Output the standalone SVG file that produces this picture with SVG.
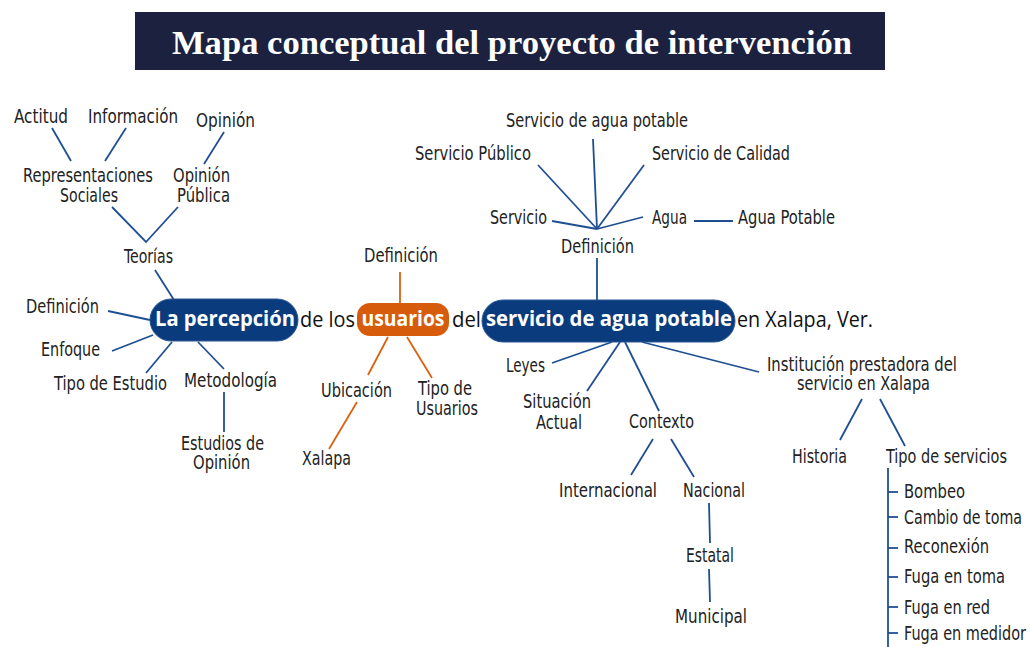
<svg xmlns="http://www.w3.org/2000/svg" width="1031" height="647" viewBox="0 0 1031 647">
<style>
.t{font-family:"Liberation Sans Narrow","DejaVu Sans Condensed","Liberation Sans",sans-serif;font-size:19px;fill:#222;text-anchor:middle}
.s{text-anchor:start}
.b{font-family:"Open Sans","Liberation Sans",sans-serif;font-weight:bold;font-size:21px;fill:#fff;text-anchor:middle}
.r{font-family:"Open Sans","Liberation Sans",sans-serif;font-size:21px;fill:#111}
.ln line,.ln polyline{stroke:#1f4f93;stroke-width:1.8;fill:none}
.ln .o{stroke:#d9620f}
</style>
<rect width="1031" height="647" fill="#fff"/>
<g id="title">
<rect x="135" y="12" width="750" height="58" fill="#1b213f"/>
<text x="512" y="54" font-family="Liberation Serif,serif" font-weight="bold" font-size="33" fill="#fff" text-anchor="middle" textLength="680" lengthAdjust="spacingAndGlyphs">Mapa conceptual del proyecto de intervención</text>
</g>
<g id="connectors" class="ln">
<line x1="52" y1="128" x2="71" y2="161"/>
<line x1="126" y1="128" x2="105" y2="161"/>
<line x1="224" y1="132" x2="204" y2="164"/>
<polyline points="112,207 146,242 178,207"/>
<line x1="155" y1="270" x2="174" y2="300"/>
<line x1="108" y1="311" x2="150" y2="320"/>
<line x1="112" y1="351" x2="153" y2="335"/>
<line x1="146" y1="373" x2="172" y2="342"/>
<line x1="198" y1="342" x2="224" y2="369"/>
<line x1="224" y1="392" x2="224" y2="432"/>
<line class="o" x1="400" y1="272" x2="400" y2="303"/>
<line class="o" x1="388" y1="337" x2="368" y2="375"/>
<line class="o" x1="407" y1="337" x2="432" y2="378"/>
<line class="o" x1="357" y1="402" x2="329" y2="449"/>
<line x1="597" y1="258" x2="597" y2="300"/>
<line x1="552" y1="221" x2="597" y2="229"/>
<line x1="538" y1="165" x2="597" y2="229"/>
<line x1="593" y1="139" x2="597" y2="229"/>
<line x1="644" y1="165" x2="597" y2="229"/>
<line x1="643" y1="217" x2="597" y2="229"/>
<line x1="694" y1="221" x2="733" y2="221"/>
<line x1="552" y1="363" x2="612" y2="342"/>
<line x1="587" y1="391" x2="620" y2="342"/>
<line x1="625" y1="342" x2="659" y2="411"/>
<line x1="642" y1="342" x2="759" y2="372"/>
<line x1="653" y1="439" x2="631" y2="475"/>
<line x1="671" y1="439" x2="694" y2="477"/>
<line x1="709" y1="503" x2="710" y2="543"/>
<line x1="709" y1="569" x2="710" y2="602"/>
<line x1="862" y1="399" x2="840" y2="440"/>
<line x1="880" y1="399" x2="905" y2="446"/>
<line x1="888" y1="468" x2="888" y2="647"/>
<line x1="888" y1="492" x2="898" y2="492"/>
<line x1="888" y1="517" x2="898" y2="517"/>
<line x1="888" y1="548" x2="898" y2="548"/>
<line x1="888" y1="577" x2="898" y2="577"/>
<line x1="888" y1="607" x2="898" y2="607"/>
<line x1="888" y1="633" x2="898" y2="633"/>
</g>
<g id="n-actitud"><text class="t" x="41" y="123" textLength="54" lengthAdjust="spacingAndGlyphs">Actitud</text></g>
<g id="n-informacion"><text class="t" x="133" y="123" textLength="90" lengthAdjust="spacingAndGlyphs">Información</text></g>
<g id="n-opinion"><text class="t" x="225.5" y="127" textLength="59" lengthAdjust="spacingAndGlyphs">Opinión</text></g>
<g id="n-representaciones"><text class="t" x="88" y="182" textLength="130" lengthAdjust="spacingAndGlyphs">Representaciones</text><text class="t" x="89" y="202" textLength="58" lengthAdjust="spacingAndGlyphs">Sociales</text></g>
<g id="n-opinion-publica"><text class="t" x="201.5" y="182" textLength="57" lengthAdjust="spacingAndGlyphs">Opinión</text><text class="t" x="203.5" y="202" textLength="53" lengthAdjust="spacingAndGlyphs">Pública</text></g>
<g id="n-teorias"><text class="t" x="148.5" y="263" textLength="49" lengthAdjust="spacingAndGlyphs">Teorías</text></g>
<g id="n-def-left"><text class="t" x="62.5" y="313" textLength="73" lengthAdjust="spacingAndGlyphs">Definición</text></g>
<g id="n-enfoque"><text class="t" x="70.5" y="356" textLength="59" lengthAdjust="spacingAndGlyphs">Enfoque</text></g>
<g id="n-tipo-estudio"><text class="t" x="110.5" y="390" textLength="113" lengthAdjust="spacingAndGlyphs">Tipo de Estudio</text></g>
<g id="n-metodologia"><text class="t" x="230.5" y="387" textLength="93" lengthAdjust="spacingAndGlyphs">Metodología</text></g>
<g id="n-estudios"><text class="t" x="222.5" y="450" textLength="83" lengthAdjust="spacingAndGlyphs">Estudios de</text><text class="t" x="221.5" y="469" textLength="57" lengthAdjust="spacingAndGlyphs">Opinión</text></g>
<g id="n-percepcion"><rect x="150" y="299" width="148" height="42" rx="21" fill="#0a3b7d" stroke="#2b5796" stroke-width="1"/><text class="b" x="225" y="326" textLength="140" lengthAdjust="spacingAndGlyphs">La percepción</text></g>
<g id="n-delos"><text class="r" x="300" y="327" textLength="55" lengthAdjust="spacingAndGlyphs">de los</text></g>
<g id="n-usuarios"><rect x="357" y="303" width="92" height="33" rx="13" fill="#d65c0b"/><text class="b" x="403" y="326" textLength="83" lengthAdjust="spacingAndGlyphs">usuarios</text></g>
<g id="n-del"><text class="r" x="452" y="327" textLength="29" lengthAdjust="spacingAndGlyphs">del</text></g>
<g id="n-servicio"><rect x="482" y="300" width="253" height="42" rx="21" fill="#0a3b7d" stroke="#2b5796" stroke-width="1"/><text class="b" x="609" y="326" textLength="246" lengthAdjust="spacingAndGlyphs">servicio de agua potable</text></g>
<g id="n-enxalapa"><text class="r" x="737" y="327" textLength="136" lengthAdjust="spacingAndGlyphs">en Xalapa, Ver.</text></g>
<g id="n-def-center"><text class="t" x="401" y="262" textLength="74" lengthAdjust="spacingAndGlyphs">Definición</text></g>
<g id="n-ubicacion"><text class="t" x="356.5" y="397" textLength="71" lengthAdjust="spacingAndGlyphs">Ubicación</text></g>
<g id="n-tipo-usuarios"><text class="t" x="445" y="395" textLength="54" lengthAdjust="spacingAndGlyphs">Tipo de</text><text class="t" x="447" y="415" textLength="62" lengthAdjust="spacingAndGlyphs">Usuarios</text></g>
<g id="n-xalapa"><text class="t" x="326.5" y="465" textLength="49" lengthAdjust="spacingAndGlyphs">Xalapa</text></g>
<g id="n-sap"><text class="t" x="597" y="127" textLength="182" lengthAdjust="spacingAndGlyphs">Servicio de agua potable</text></g>
<g id="n-spublico"><text class="t" x="473" y="160" textLength="116" lengthAdjust="spacingAndGlyphs">Servicio Público</text></g>
<g id="n-scalidad"><text class="t" x="721" y="160" textLength="138" lengthAdjust="spacingAndGlyphs">Servicio de Calidad</text></g>
<g id="n-servicio-s"><text class="t" x="518.5" y="224" textLength="57" lengthAdjust="spacingAndGlyphs">Servicio</text></g>
<g id="n-agua"><text class="t" x="669.5" y="224" textLength="35" lengthAdjust="spacingAndGlyphs">Agua</text></g>
<g id="n-aguapotable"><text class="t" x="786.5" y="224" textLength="97" lengthAdjust="spacingAndGlyphs">Agua Potable</text></g>
<g id="n-def-right"><text class="t" x="597.5" y="253" textLength="73" lengthAdjust="spacingAndGlyphs">Definición</text></g>
<g id="n-leyes"><text class="t" x="525.5" y="372" textLength="39" lengthAdjust="spacingAndGlyphs">Leyes</text></g>
<g id="n-situacion"><text class="t" x="557" y="408" textLength="68" lengthAdjust="spacingAndGlyphs">Situación</text><text class="t" x="559" y="429" textLength="46" lengthAdjust="spacingAndGlyphs">Actual</text></g>
<g id="n-contexto"><text class="t" x="661.5" y="428" textLength="65" lengthAdjust="spacingAndGlyphs">Contexto</text></g>
<g id="n-internacional"><text class="t" x="608" y="497" textLength="98" lengthAdjust="spacingAndGlyphs">Internacional</text></g>
<g id="n-nacional"><text class="t" x="714" y="497" textLength="62" lengthAdjust="spacingAndGlyphs">Nacional</text></g>
<g id="n-estatal"><text class="t" x="710" y="562" textLength="48" lengthAdjust="spacingAndGlyphs">Estatal</text></g>
<g id="n-municipal"><text class="t" x="711" y="623" textLength="72" lengthAdjust="spacingAndGlyphs">Municipal</text></g>
<g id="n-institucion"><text class="t" x="862" y="371" textLength="190" lengthAdjust="spacingAndGlyphs">Institución prestadora del</text><text class="t" x="863.5" y="390" textLength="133" lengthAdjust="spacingAndGlyphs">servicio en Xalapa</text></g>
<g id="n-historia"><text class="t" x="819.5" y="463" textLength="55" lengthAdjust="spacingAndGlyphs">Historia</text></g>
<g id="n-tiposerv"><text class="t" x="946.5" y="463" textLength="121" lengthAdjust="spacingAndGlyphs">Tipo de servicios</text></g>
<g id="n-bombeo"><text class="t s" x="904" y="498" textLength="61" lengthAdjust="spacingAndGlyphs">Bombeo</text></g>
<g id="n-cambio"><text class="t s" x="904" y="524" textLength="118" lengthAdjust="spacingAndGlyphs">Cambio de toma</text></g>
<g id="n-reconexion"><text class="t s" x="904" y="553" textLength="85" lengthAdjust="spacingAndGlyphs">Reconexión</text></g>
<g id="n-fugatoma"><text class="t s" x="904" y="583" textLength="101" lengthAdjust="spacingAndGlyphs">Fuga en toma</text></g>
<g id="n-fugared"><text class="t s" x="904" y="614" textLength="86" lengthAdjust="spacingAndGlyphs">Fuga en red</text></g>
<g id="n-fugamedidor"><text class="t s" x="904" y="640" textLength="122" lengthAdjust="spacingAndGlyphs">Fuga en medidor</text></g>
</svg>
